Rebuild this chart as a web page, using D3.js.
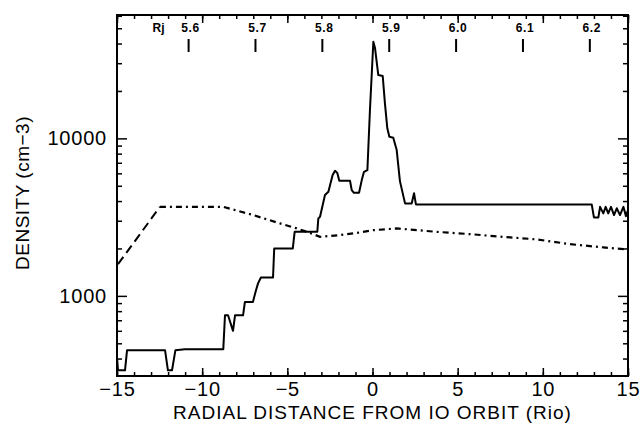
<!DOCTYPE html>
<html>
<head>
<meta charset="utf-8">
<script src="https://cdn.jsdelivr.net/npm/d3@7"></script>
<style>
  body { margin: 0; background: #fff; }
  text { font-family: "Liberation Sans", Arial, sans-serif; fill: #000; }
</style>
</head>
<body>
<div id="chart"></div>
<script>
// measured density along the pass (solid line)
var obsX = [-15, -14.94, -14.53, -14.41, -12.18, -12.01, -11.77, -11.57, -11.01, -8.76,
  -8.66, -8.48, -8.19, -8.07, -7.60, -7.49, -7.02, -6.84, -6.72, -6.55,
  -5.84, -5.77, -4.68, -4.57, -3.24, -3.18, -3.08, -2.79, -2.59, -2.49,
  -2.34, -2.20, -2.07, -1.95, -1.32, -1.22, -1.09, -0.79, -0.63, -0.50,
  -0.30, -0.25, -0.15, 0.05, 0.15, 0.34, 0.60, 0.73, 0.87, 0.99,
  1.22, 1.42, 1.61, 1.91, 2.30, 2.44, 2.55, 12.87, 13.00, 13.26,
  13.36, 13.55, 13.69, 13.84, 14.00, 14.18, 14.34, 14.53, 14.73, 14.88, 15.0];
var obsDensity = [408, 337, 337, 452, 452, 337, 337, 452, 459, 459,
  753, 753, 600, 753, 753, 916, 916, 1087, 1200, 1309,
  1309, 2000, 2000, 2552, 2552, 3104, 3177, 4365, 4580, 5050,
  5847, 6226, 6040, 5379, 5379, 4694, 4512, 4512, 5432, 6136,
  6289, 8432, 15140, 41100, 37320, 25230, 24880, 16680, 11575, 10235,
  10090, 8432, 5354, 3865, 3865, 4477, 3810, 3810, 3148, 3148,
  3675, 3341, 3675, 3341, 3675, 3258, 3600, 3258, 3675, 3209, 3500];

// background profile (dashed / dash-dot line)
var modelX = [-14.94, -12.48, -8.76, -7.00, -5.43, -4.45, -3.67, -3.08, -1.91, -0.93,
  0.05, 1.42, 3.77, 5.72, 7.68, 9.64, 11.60, 13.55, 15.0];
var modelDensity = [1590, 3675, 3675, 3258, 2884, 2682, 2512, 2370, 2432, 2512,
  2614, 2682, 2550, 2466, 2370, 2283, 2130, 2031, 1971];

var xTickLabels = [-15, -10, -5, 0, 5, 10, 15];
var yTickLabels = [1000, 10000];
var rjLabels = [5.6, 5.7, 5.8, 5.9, 6.0, 6.1, 6.2];

var W = 643, H = 436;
var margin = {top: 15, right: 15, bottom: 60, left: 117};
var width = W - margin.left - margin.right,
    height = H - margin.top - margin.bottom;

var svg = d3.select("#chart").append("svg")
    .attr("width", W)
    .attr("height", H);
var g = svg.append("g")
    .attr("transform", "translate(" + margin.left + "," + margin.top + ")");

var x = d3.scaleLinear().domain([-15, 15]).range([0, width]);
var y = d3.scaleLog().domain([310, 60700]).range([height, 0]);

// Rj -> Io radii from Io orbit
var rioPerRj = 71492 / 1821, ioOrbitRj = 5.875;
function rjToRio(r) { return (r - ioOrbitRj) * rioPerRj; }

// minor / major ticks
var xMinor = d3.range(-15, 16, 1);
var yMinor = [];
[100, 1000, 10000].forEach(function(dec) {
  for (var k = 1; k < 10; k++) {
    var v = k * dec;
    if (v >= 310 && v <= 60700 && yTickLabels.indexOf(v) < 0) yMinor.push(v);
  }
});

function styleAxis(sel) {
  sel.select(".domain").remove();
  sel.selectAll("line").attr("stroke", "#000").attr("stroke-width", 1.5);
}

// bottom
g.append("g").attr("transform", "translate(0," + height + ")")
  .call(d3.axisBottom(x).tickValues(xMinor).tickSize(-4).tickFormat(""))
  .call(styleAxis);
g.append("g").attr("transform", "translate(0," + height + ")")
  .call(d3.axisBottom(x).tickValues(xTickLabels).tickSize(-8).tickPadding(6)
    .tickFormat(function(d) { return d < 0 ? "\u2212" + Math.abs(d) : d; }))
  .call(styleAxis)
  .selectAll("text").attr("font-size", 20).attr("letter-spacing", 0.8);
// top
g.append("g")
  .call(d3.axisTop(x).tickValues(xMinor).tickSize(-4).tickFormat(""))
  .call(styleAxis);
g.append("g")
  .call(d3.axisTop(x).tickValues(xTickLabels).tickSize(-8).tickFormat(""))
  .call(styleAxis);
// left
g.append("g")
  .call(d3.axisLeft(y).tickValues(yMinor).tickSize(-5).tickFormat(""))
  .call(styleAxis);
g.append("g")
  .call(d3.axisLeft(y).tickValues(yTickLabels).tickSize(-10).tickPadding(10)
    .tickFormat(d3.format("d")))
  .call(styleAxis)
  .selectAll("text").attr("font-size", 20).attr("letter-spacing", 0.8);
// right
g.append("g").attr("transform", "translate(" + width + ",0)")
  .call(d3.axisRight(y).tickValues(yMinor).tickSize(-5).tickFormat(""))
  .call(styleAxis);
g.append("g").attr("transform", "translate(" + width + ",0)")
  .call(d3.axisRight(y).tickValues(yTickLabels).tickSize(-10).tickFormat(""))
  .call(styleAxis);

// Rj scale along the top
var rj = g.append("g");
rj.selectAll("line.rj").data(rjLabels).enter().append("line")
  .attr("x1", function(d) { return x(rjToRio(d)); })
  .attr("x2", function(d) { return x(rjToRio(d)); })
  .attr("y1", 24).attr("y2", 37)
  .attr("stroke", "#000").attr("stroke-width", 2);
rj.selectAll("text.rj").data(rjLabels).enter().append("text")
  .attr("x", function(d) { return x(rjToRio(d)) + 2; })
  .attr("y", 17)
  .attr("text-anchor", "middle")
  .attr("font-size", 12).attr("font-weight", "bold").attr("letter-spacing", 0.6)
  .text(function(d) { return d.toFixed(1); });
rj.append("text")
  .attr("x", x(rjToRio(rjLabels[0])) - 30)
  .attr("y", 17)
  .attr("text-anchor", "middle")
  .attr("font-size", 12).attr("font-weight", "bold")
  .text("Rj");

// lines
var line = d3.line()
  .x(function(d) { return x(d[0]); })
  .y(function(d) { return y(d[1]); });

var model = modelX.map(function(v, i) { return [v, modelDensity[i]]; });
var obs = obsX.map(function(v, i) { return [v, obsDensity[i]]; });

g.append("path").datum(model.filter(function(d) { return d[0] <= -12.48; }))
  .attr("d", line).attr("fill", "none")
  .attr("stroke", "#000").attr("stroke-width", 2)
  .attr("stroke-dasharray", "9,5");
g.append("path").datum(model.filter(function(d) { return d[0] >= -12.48; }))
  .attr("d", line).attr("fill", "none")
  .attr("stroke", "#000").attr("stroke-width", 2.2)
  .attr("stroke-dasharray", "6,4,2,4");

g.append("path").datum(obs)
  .attr("d", line).attr("fill", "none")
  .attr("stroke", "#000").attr("stroke-width", 2)
  .attr("stroke-linejoin", "round");

// frame
g.append("rect").attr("width", width).attr("height", height)
  .attr("fill", "none").attr("stroke", "#000").attr("stroke-width", 2);

// axis titles
svg.append("text")
  .attr("x", margin.left + width / 2)
  .attr("y", 419)
  .attr("text-anchor", "middle")
  .attr("font-size", 19).attr("letter-spacing", 1)
  .text("RADIAL DISTANCE FROM IO ORBIT (Rio)");
svg.append("text")
  .attr("transform", "translate(29," + 193 + ") rotate(-90)")
  .attr("text-anchor", "middle")
  .attr("font-size", 19).attr("letter-spacing", 0.5)
  .text("DENSITY (cm\u22123)");
</script>
</body>
</html>
